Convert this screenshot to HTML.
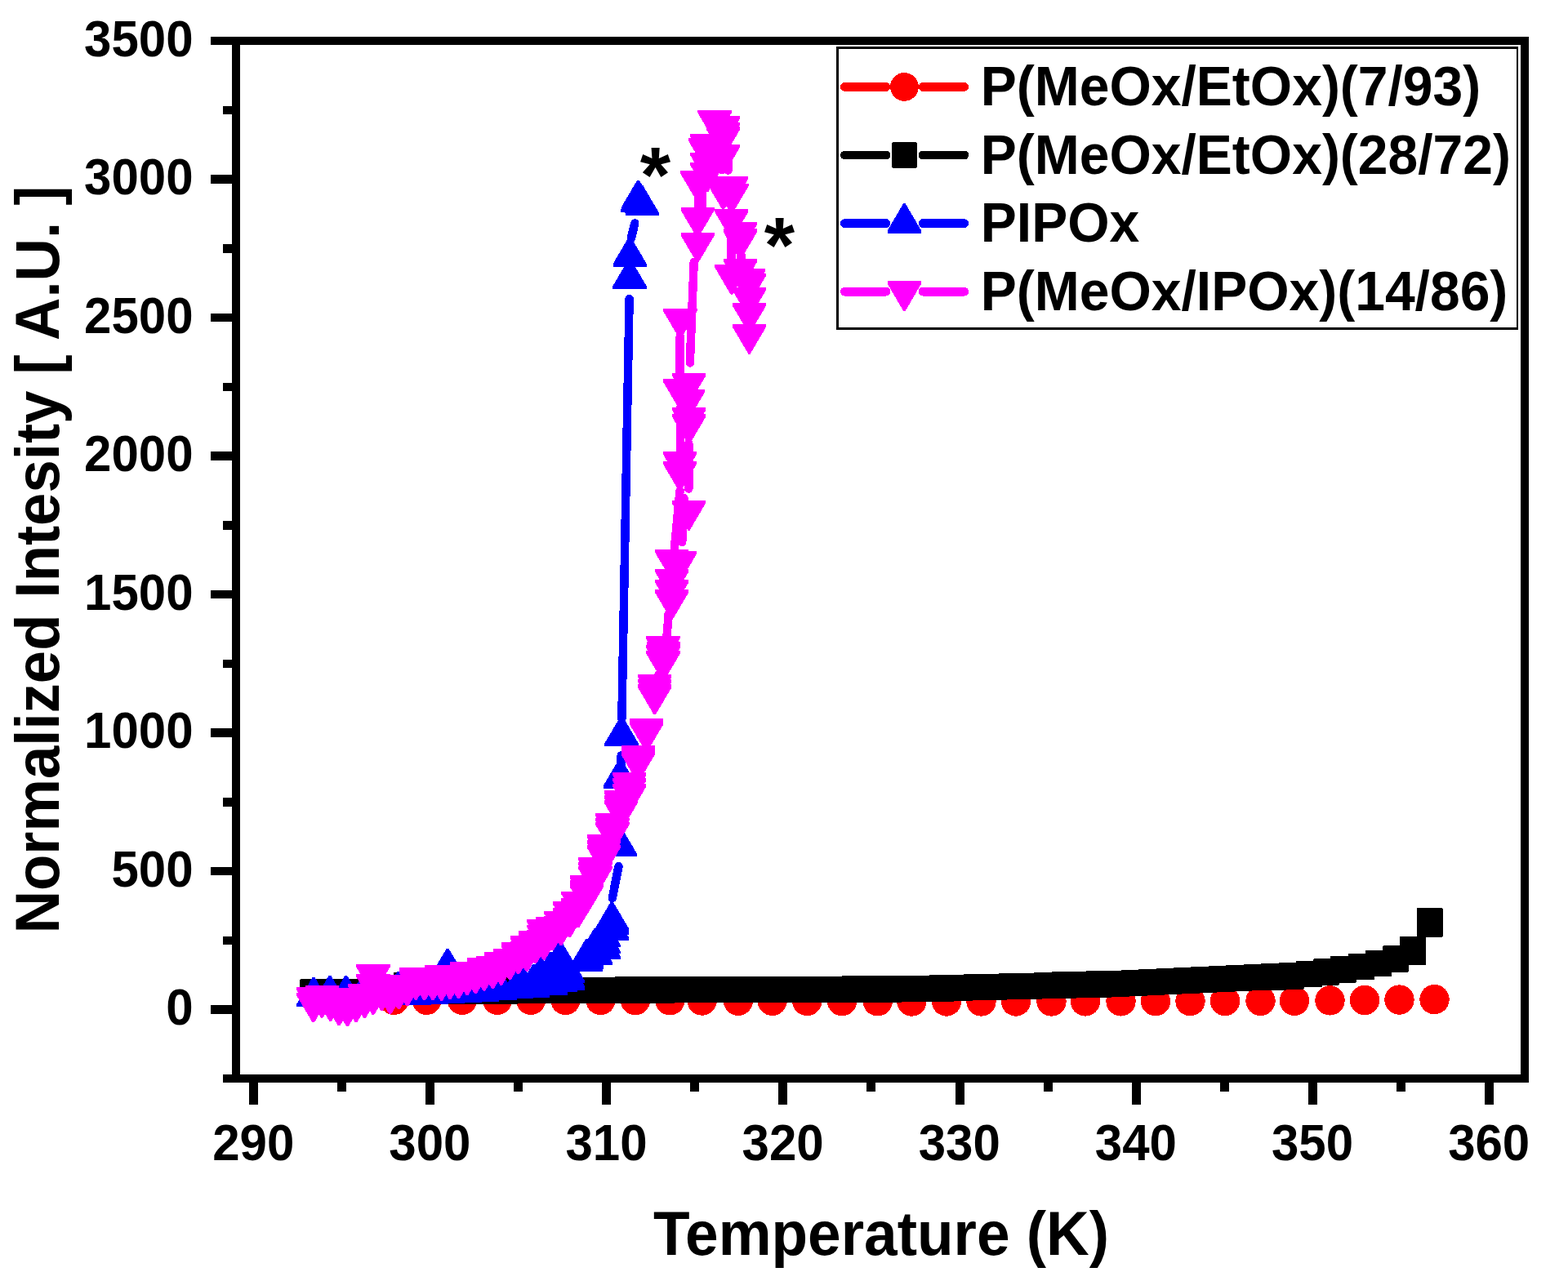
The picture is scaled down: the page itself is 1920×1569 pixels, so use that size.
<!DOCTYPE html>
<html lang="en">
<head>
<meta charset="utf-8">
<title>Normalized Intensity vs Temperature</title>
<style>html,body{margin:0;padding:0;background:#fff}svg{display:block}</style>
</head>
<body>
<svg width="1920" height="1569" viewBox="0 0 1920 1569" font-family="'Liberation Sans', Arial, sans-serif" font-weight="bold">
<rect width="1920" height="1569" fill="#fff"/>
<g shape-rendering="crispEdges">
<g id="s-red"><circle cx="482.5" cy="1224.8" r="18.2" fill="#ff0000"/><circle cx="522.5" cy="1224.8" r="18.2" fill="#ff0000"/><circle cx="565.9" cy="1224.8" r="18.2" fill="#ff0000"/><circle cx="609.0" cy="1224.9" r="18.2" fill="#ff0000"/><circle cx="650.0" cy="1224.9" r="18.2" fill="#ff0000"/><circle cx="692.5" cy="1225.0" r="18.2" fill="#ff0000"/><circle cx="735.5" cy="1225.0" r="18.2" fill="#ff0000"/><circle cx="777.9" cy="1225.2" r="18.2" fill="#ff0000"/><circle cx="820.3" cy="1225.3" r="18.2" fill="#ff0000"/><circle cx="859.7" cy="1225.5" r="18.2" fill="#ff0000"/><circle cx="903.9" cy="1225.7" r="18.2" fill="#ff0000"/><circle cx="945.6" cy="1225.8" r="18.2" fill="#ff0000"/><circle cx="988.3" cy="1226.0" r="18.2" fill="#ff0000"/><circle cx="1031.1" cy="1226.2" r="18.2" fill="#ff0000"/><circle cx="1074.7" cy="1226.3" r="18.2" fill="#ff0000"/><circle cx="1116.4" cy="1226.5" r="18.2" fill="#ff0000"/><circle cx="1159.0" cy="1226.5" r="18.2" fill="#ff0000"/><circle cx="1201.5" cy="1226.5" r="18.2" fill="#ff0000"/><circle cx="1244.0" cy="1226.5" r="18.2" fill="#ff0000"/><circle cx="1287.5" cy="1226.5" r="18.2" fill="#ff0000"/><circle cx="1329.0" cy="1226.4" r="18.2" fill="#ff0000"/><circle cx="1372.5" cy="1226.3" r="18.2" fill="#ff0000"/><circle cx="1415.0" cy="1226.2" r="18.2" fill="#ff0000"/><circle cx="1457.5" cy="1226.1" r="18.2" fill="#ff0000"/><circle cx="1500.0" cy="1226.0" r="18.2" fill="#ff0000"/><circle cx="1543.5" cy="1225.9" r="18.2" fill="#ff0000"/><circle cx="1585.0" cy="1225.8" r="18.2" fill="#ff0000"/><circle cx="1628.5" cy="1225.4" r="18.2" fill="#ff0000"/><circle cx="1671.0" cy="1225.0" r="18.2" fill="#ff0000"/><circle cx="1713.5" cy="1224.6" r="18.2" fill="#ff0000"/><circle cx="1756.5" cy="1224.1" r="18.2" fill="#ff0000"/></g>
<g id="s-black"><rect x="367.4" y="1198.9" width="32.2" height="32.2" rx="1.2" fill="#000000"/><rect x="388.8" y="1198.8" width="32.2" height="32.2" rx="1.2" fill="#000000"/><rect x="410.2" y="1198.6" width="32.2" height="32.2" rx="1.2" fill="#000000"/><rect x="431.6" y="1198.5" width="32.2" height="32.2" rx="1.2" fill="#000000"/><rect x="453.0" y="1198.3" width="32.2" height="32.2" rx="1.2" fill="#000000"/><rect x="474.3" y="1198.2" width="32.2" height="32.2" rx="1.2" fill="#000000"/><rect x="495.7" y="1198.0" width="32.2" height="32.2" rx="1.2" fill="#000000"/><rect x="517.1" y="1197.9" width="32.2" height="32.2" rx="1.2" fill="#000000"/><rect x="538.5" y="1197.7" width="32.2" height="32.2" rx="1.2" fill="#000000"/><rect x="559.9" y="1197.6" width="32.2" height="32.2" rx="1.2" fill="#000000"/><rect x="581.3" y="1197.4" width="32.2" height="32.2" rx="1.2" fill="#000000"/><rect x="602.7" y="1197.3" width="32.2" height="32.2" rx="1.2" fill="#000000"/><rect x="624.1" y="1197.1" width="32.2" height="32.2" rx="1.2" fill="#000000"/><rect x="645.4" y="1197.0" width="32.2" height="32.2" rx="1.2" fill="#000000"/><rect x="666.8" y="1196.9" width="32.2" height="32.2" rx="1.2" fill="#000000"/><rect x="688.2" y="1196.7" width="32.2" height="32.2" rx="1.2" fill="#000000"/><rect x="709.6" y="1196.6" width="32.2" height="32.2" rx="1.2" fill="#000000"/><rect x="731.0" y="1196.5" width="32.2" height="32.2" rx="1.2" fill="#000000"/><rect x="752.4" y="1196.4" width="32.2" height="32.2" rx="1.2" fill="#000000"/><rect x="773.8" y="1196.3" width="32.2" height="32.2" rx="1.2" fill="#000000"/><rect x="795.2" y="1196.3" width="32.2" height="32.2" rx="1.2" fill="#000000"/><rect x="816.6" y="1196.2" width="32.2" height="32.2" rx="1.2" fill="#000000"/><rect x="837.9" y="1196.1" width="32.2" height="32.2" rx="1.2" fill="#000000"/><rect x="859.3" y="1196.0" width="32.2" height="32.2" rx="1.2" fill="#000000"/><rect x="880.7" y="1196.0" width="32.2" height="32.2" rx="1.2" fill="#000000"/><rect x="902.1" y="1195.9" width="32.2" height="32.2" rx="1.2" fill="#000000"/><rect x="923.5" y="1195.8" width="32.2" height="32.2" rx="1.2" fill="#000000"/><rect x="944.9" y="1195.7" width="32.2" height="32.2" rx="1.2" fill="#000000"/><rect x="966.3" y="1195.6" width="32.2" height="32.2" rx="1.2" fill="#000000"/><rect x="987.7" y="1195.6" width="32.2" height="32.2" rx="1.2" fill="#000000"/><rect x="1009.1" y="1195.5" width="32.2" height="32.2" rx="1.2" fill="#000000"/><rect x="1030.4" y="1195.4" width="32.2" height="32.2" rx="1.2" fill="#000000"/><rect x="1051.8" y="1195.3" width="32.2" height="32.2" rx="1.2" fill="#000000"/><rect x="1073.2" y="1195.3" width="32.2" height="32.2" rx="1.2" fill="#000000"/><rect x="1094.6" y="1195.2" width="32.2" height="32.2" rx="1.2" fill="#000000"/><rect x="1116.0" y="1194.8" width="32.2" height="32.2" rx="1.2" fill="#000000"/><rect x="1137.4" y="1194.3" width="32.2" height="32.2" rx="1.2" fill="#000000"/><rect x="1158.8" y="1193.7" width="32.2" height="32.2" rx="1.2" fill="#000000"/><rect x="1180.2" y="1193.2" width="32.2" height="32.2" rx="1.2" fill="#000000"/><rect x="1201.5" y="1192.6" width="32.2" height="32.2" rx="1.2" fill="#000000"/><rect x="1222.9" y="1192.1" width="32.2" height="32.2" rx="1.2" fill="#000000"/><rect x="1244.3" y="1191.5" width="32.2" height="32.2" rx="1.2" fill="#000000"/><rect x="1265.7" y="1190.9" width="32.2" height="32.2" rx="1.2" fill="#000000"/><rect x="1287.1" y="1190.4" width="32.2" height="32.2" rx="1.2" fill="#000000"/><rect x="1308.5" y="1189.8" width="32.2" height="32.2" rx="1.2" fill="#000000"/><rect x="1329.9" y="1189.3" width="32.2" height="32.2" rx="1.2" fill="#000000"/><rect x="1351.3" y="1188.6" width="32.2" height="32.2" rx="1.2" fill="#000000"/><rect x="1372.7" y="1187.7" width="32.2" height="32.2" rx="1.2" fill="#000000"/><rect x="1394.0" y="1186.7" width="32.2" height="32.2" rx="1.2" fill="#000000"/><rect x="1415.4" y="1185.8" width="32.2" height="32.2" rx="1.2" fill="#000000"/><rect x="1436.8" y="1184.9" width="32.2" height="32.2" rx="1.2" fill="#000000"/><rect x="1458.2" y="1184.0" width="32.2" height="32.2" rx="1.2" fill="#000000"/><rect x="1479.6" y="1183.1" width="32.2" height="32.2" rx="1.2" fill="#000000"/><rect x="1501.0" y="1182.2" width="32.2" height="32.2" rx="1.2" fill="#000000"/><rect x="1522.4" y="1181.2" width="32.2" height="32.2" rx="1.2" fill="#000000"/><rect x="1543.8" y="1180.3" width="32.2" height="32.2" rx="1.2" fill="#000000"/><rect x="1565.2" y="1179.4" width="32.2" height="32.2" rx="1.2" fill="#000000"/><rect x="481.9" y="1190.8" width="32.2" height="32.2" rx="1.2" fill="#000000"/><rect x="1586.7" y="1176.8" width="32.2" height="32.2" rx="1.2" fill="#000000"/><rect x="1607.8" y="1174.4" width="32.2" height="32.2" rx="1.2" fill="#000000"/><rect x="1628.6" y="1171.4" width="32.2" height="32.2" rx="1.2" fill="#000000"/><rect x="1651.1" y="1167.8" width="32.2" height="32.2" rx="1.2" fill="#000000"/><rect x="1671.6" y="1164.0" width="32.2" height="32.2" rx="1.2" fill="#000000"/><rect x="1693.0" y="1158.3" width="32.2" height="32.2" rx="1.2" fill="#000000"/><rect x="1713.7" y="1147.2" width="32.2" height="32.2" rx="1.2" fill="#000000"/><rect x="1713.7" y="1149.8" width="32.2" height="32.2" rx="1.2" fill="#000000"/><rect x="1734.5" y="1112.1" width="32.2" height="32.2" rx="1.2" fill="#000000"/><rect x="1734.5" y="1115.8" width="32.2" height="32.2" rx="1.2" fill="#000000"/></g>
<g id="s-blue"><line x1="749.8" y1="1100.0" x2="757.5" y2="1061.0" stroke="#0000ff" stroke-width="10.5" stroke-linecap="round"/><line x1="760.6" y1="925.5" x2="760.2" y2="940.0" stroke="#0000ff" stroke-width="10.5" stroke-linecap="round"/><line x1="761.4" y1="880.0" x2="770.6" y2="366.0" stroke="#0000ff" stroke-width="10.5" stroke-linecap="round"/><line x1="772.8" y1="292.0" x2="777.3" y2="273.5" stroke="#0000ff" stroke-width="10.5" stroke-linecap="round"/><path d="M363.3 1233.3H404.7V1229.7L385.2 1196.5H382.8L363.3 1229.7Z" fill="#0000ff"/><path d="M383.3 1231.4H424.7V1227.8L405.2 1194.6H402.8L383.3 1227.8Z" fill="#0000ff"/><path d="M403.1 1231.4H444.4V1227.8L424.9 1194.6H422.6L403.1 1227.8Z" fill="#0000ff"/><path d="M423.8 1231.4H465.2V1227.8L445.7 1194.6H443.3L423.8 1227.8Z" fill="#0000ff"/><path d="M444.3 1230.9H485.7V1227.3L466.2 1194.1H463.8L444.3 1227.3Z" fill="#0000ff"/><path d="M466.8 1227.0H508.2V1223.4L488.7 1190.2H486.3L466.8 1223.4Z" fill="#0000ff"/><path d="M486.3 1230.9H527.7V1227.3L508.2 1194.1H505.8L486.3 1227.3Z" fill="#0000ff"/><path d="M507.3 1229.9H548.7V1226.3L529.2 1193.1H526.8L507.3 1226.3Z" fill="#0000ff"/><path d="M527.4 1228.9H568.8V1225.3L549.3 1192.1H546.9L527.4 1225.3Z" fill="#0000ff"/><path d="M527.4 1198.3H568.8V1194.7L549.3 1161.5H546.9L527.4 1194.7Z" fill="#0000ff"/><path d="M548.3 1227.9H589.7V1224.3L570.2 1191.1H567.8L548.3 1224.3Z" fill="#0000ff"/><path d="M569.8 1226.7H611.2V1223.1L591.7 1189.9H589.3L569.8 1223.1Z" fill="#0000ff"/><path d="M591.1 1225.4H632.5V1221.8L613.0 1188.6H610.6L591.1 1221.8Z" fill="#0000ff"/><path d="M611.9 1223.3H653.3V1219.7L633.8 1186.5H631.4L611.9 1219.7Z" fill="#0000ff"/><path d="M620.3 1221.9H661.7V1218.3L642.2 1185.1H639.8L620.3 1218.3Z" fill="#0000ff"/><path d="M631.9 1222.1H673.3V1218.5L653.8 1185.3H651.4L631.9 1218.5Z" fill="#0000ff"/><path d="M632.6 1218.0H674.0V1214.4L654.5 1181.2H652.1L632.6 1214.4Z" fill="#0000ff"/><path d="M641.3 1208.4H682.7V1204.8L663.2 1171.6H660.8L641.3 1204.8Z" fill="#0000ff"/><path d="M653.6 1219.2H695.0V1215.6L675.5 1182.4H673.1L653.6 1215.6Z" fill="#0000ff"/><path d="M653.6 1202.4H695.0V1198.8L675.5 1165.6H673.1L653.6 1198.8Z" fill="#0000ff"/><path d="M665.3 1215.4H706.7V1211.8L687.2 1178.6H684.8L665.3 1211.8Z" fill="#0000ff"/><path d="M665.1 1188.7H706.5V1185.1L687.0 1151.9H684.6L665.1 1185.1Z" fill="#0000ff"/><path d="M674.4 1213.2H715.8V1209.6L696.3 1176.4H693.9L674.4 1209.6Z" fill="#0000ff"/><path d="M674.4 1210.8H715.8V1207.2L696.3 1174.0H693.9L674.4 1207.2Z" fill="#0000ff"/><path d="M674.4 1204.4H715.8V1200.8L696.3 1167.6H693.9L674.4 1200.8Z" fill="#0000ff"/><path d="M696.9 1189.7H738.3V1186.1L718.8 1152.9H716.4L696.9 1186.1Z" fill="#0000ff"/><path d="M697.6 1186.8H739.0V1183.2L719.5 1150.0H717.1L697.6 1183.2Z" fill="#0000ff"/><path d="M708.2 1181.7H749.6V1178.1L730.1 1144.9H727.7L708.2 1178.1Z" fill="#0000ff"/><path d="M708.2 1173.4H749.6V1169.8L730.1 1136.6H727.7L708.2 1169.8Z" fill="#0000ff"/><path d="M718.2 1174.6H759.6V1171.0L740.1 1137.8H737.7L718.2 1171.0Z" fill="#0000ff"/><path d="M718.2 1168.4H759.6V1164.8L740.1 1131.6H737.7L718.2 1164.8Z" fill="#0000ff"/><path d="M718.2 1160.4H759.6V1156.8L740.1 1123.6H737.7L718.2 1156.8Z" fill="#0000ff"/><path d="M728.6 1151.7H770.0V1148.1L750.5 1114.9H748.1L728.6 1148.1Z" fill="#0000ff"/><path d="M728.6 1145.4H770.0V1141.8L750.5 1108.6H748.1L728.6 1141.8Z" fill="#0000ff"/><path d="M728.6 1140.9H770.0V1137.3L750.5 1104.1H748.1L728.6 1137.3Z" fill="#0000ff"/><path d="M738.6 1049.4H780.0V1045.8L760.5 1012.6H758.1L738.6 1045.8Z" fill="#0000ff"/><path d="M738.8 965.9H780.2V962.3L760.7 929.1H758.3L738.8 962.3Z" fill="#0000ff"/><path d="M740.4 914.0H781.8V910.4L762.3 877.2H759.9L740.4 910.4Z" fill="#0000ff"/><path d="M750.3 354.0H791.7V350.4L772.2 317.2H769.8L750.3 350.4Z" fill="#0000ff"/><path d="M750.5 326.9H791.9V323.3L772.4 290.1H770.0L750.5 323.3Z" fill="#0000ff"/><path d="M760.0 260.4H801.5V256.8L782.0 223.6H779.5L760.0 256.8Z" fill="#0000ff"/><path d="M760.8 257.4H802.2V253.8L782.7 220.6H780.3L760.8 253.8Z" fill="#0000ff"/><path d="M765.5 264.1H806.9V260.5L787.4 227.3H785.0L765.5 260.5Z" fill="#0000ff"/></g>
<g id="s-magenta"><line x1="849.7" y1="321.0" x2="844.8" y2="444.5" stroke="#ff00ff" stroke-width="10.5" stroke-linecap="round"/><line x1="832.7" y1="412.0" x2="832.7" y2="457.0" stroke="#ff00ff" stroke-width="10.5" stroke-linecap="round"/><line x1="833.0" y1="500.0" x2="833.0" y2="553.0" stroke="#ff00ff" stroke-width="10.5" stroke-linecap="round"/><line x1="843.3" y1="543.0" x2="843.3" y2="598.5" stroke="#ff00ff" stroke-width="10.5" stroke-linecap="round"/><line x1="832.5" y1="601.0" x2="825.8" y2="673.0" stroke="#ff00ff" stroke-width="10.5" stroke-linecap="round"/><line x1="837.5" y1="610.0" x2="835.2" y2="664.0" stroke="#ff00ff" stroke-width="10.5" stroke-linecap="round"/><line x1="818.7" y1="752.0" x2="816.5" y2="780.0" stroke="#ff00ff" stroke-width="10.5" stroke-linecap="round"/><line x1="807.0" y1="826.0" x2="805.0" y2="830.0" stroke="#ff00ff" stroke-width="10.5" stroke-linecap="round"/><line x1="855.0" y1="245.0" x2="855.0" y2="254.0" stroke="#ff00ff" stroke-width="10.5" stroke-linecap="round"/><line x1="895.7" y1="292.0" x2="895.7" y2="320.0" stroke="#ff00ff" stroke-width="10.5" stroke-linecap="round"/><line x1="907.4" y1="312.0" x2="907.4" y2="318.0" stroke="#ff00ff" stroke-width="10.5" stroke-linecap="round"/><line x1="891.5" y1="190.0" x2="891.5" y2="208.5" stroke="#ff00ff" stroke-width="10.5" stroke-linecap="round"/><line x1="884.0" y1="190.0" x2="884.0" y2="208.0" stroke="#ff00ff" stroke-width="10.5" stroke-linecap="round"/><line x1="860.0" y1="234.0" x2="860.0" y2="254.0" stroke="#ff00ff" stroke-width="10.5" stroke-linecap="round"/><path d="M363.0 1215.5H404.4V1219.1L384.9 1252.3H382.5L363.0 1219.1Z" fill="#ff00ff"/><path d="M363.0 1209.0H404.4V1212.6L384.9 1245.8H382.5L363.0 1212.6Z" fill="#ff00ff"/><path d="M373.5 1209.8H414.9V1213.4L395.4 1246.7H393.0L373.5 1213.4Z" fill="#ff00ff"/><path d="M373.5 1206.8H414.9V1210.4L395.4 1243.7H393.0L373.5 1210.4Z" fill="#ff00ff"/><path d="M383.9 1214.2H425.3V1217.8L405.8 1251.0H403.4L383.9 1217.8Z" fill="#ff00ff"/><path d="M383.9 1209.6H425.3V1213.2L405.8 1246.4H403.4L383.9 1213.2Z" fill="#ff00ff"/><path d="M394.4 1219.6H435.8V1223.2L416.3 1256.4H413.9L394.4 1223.2Z" fill="#ff00ff"/><path d="M394.4 1212.6H435.8V1216.2L416.3 1249.4H413.9L394.4 1216.2Z" fill="#ff00ff"/><path d="M404.8 1220.5H446.2V1224.1L426.7 1257.3H424.3L404.8 1224.1Z" fill="#ff00ff"/><path d="M404.8 1212.6H446.2V1216.2L426.7 1249.4H424.3L404.8 1216.2Z" fill="#ff00ff"/><path d="M415.3 1215.5H456.7V1219.1L437.2 1252.3H434.8L415.3 1219.1Z" fill="#ff00ff"/><path d="M415.3 1209.6H456.7V1213.2L437.2 1246.4H434.8L415.3 1213.2Z" fill="#ff00ff"/><path d="M425.8 1210.5H467.2V1214.1L447.7 1247.3H445.3L425.8 1214.1Z" fill="#ff00ff"/><path d="M425.8 1204.6H467.2V1208.2L447.7 1241.4H445.3L425.8 1208.2Z" fill="#ff00ff"/><path d="M436.2 1206.3H477.6V1209.9L458.1 1243.2H455.7L436.2 1209.9Z" fill="#ff00ff"/><path d="M436.2 1192.9H477.6V1196.5L458.1 1229.7H455.7L436.2 1196.5Z" fill="#ff00ff"/><path d="M436.2 1180.9H477.6V1184.5L458.1 1217.7H455.7L436.2 1184.5Z" fill="#ff00ff"/><path d="M446.7 1201.3H488.1V1204.9L468.6 1238.2H466.2L446.7 1204.9Z" fill="#ff00ff"/><path d="M446.7 1194.0H488.1V1197.6L468.6 1230.8H466.2L446.7 1197.6Z" fill="#ff00ff"/><path d="M457.1 1205.5H498.5V1209.1L479.0 1242.3H476.6L457.1 1209.1Z" fill="#ff00ff"/><path d="M457.1 1194.0H498.5V1197.6L479.0 1230.8H476.6L457.1 1197.6Z" fill="#ff00ff"/><path d="M467.6 1199.6H509.0V1203.2L489.5 1236.4H487.1L467.6 1203.2Z" fill="#ff00ff"/><path d="M467.6 1194.2H509.0V1197.8L489.5 1231.0H487.1L467.6 1197.8Z" fill="#ff00ff"/><path d="M478.1 1195.6H519.5V1199.2L500.0 1232.4H497.6L478.1 1199.2Z" fill="#ff00ff"/><path d="M478.1 1194.4H519.5V1198.0L500.0 1231.2H497.6L478.1 1198.0Z" fill="#ff00ff"/><path d="M488.5 1188.1H529.9V1191.7L510.4 1224.9H508.0L488.5 1191.7Z" fill="#ff00ff"/><path d="M488.5 1185.1H529.9V1188.7L510.4 1221.9H508.0L488.5 1188.7Z" fill="#ff00ff"/><path d="M499.0 1188.6H540.4V1192.2L520.9 1225.4H518.5L499.0 1192.2Z" fill="#ff00ff"/><path d="M499.0 1186.6H540.4V1190.2L520.9 1223.4H518.5L499.0 1190.2Z" fill="#ff00ff"/><path d="M509.4 1188.6H550.8V1192.2L531.3 1225.4H528.9L509.4 1192.2Z" fill="#ff00ff"/><path d="M509.4 1186.6H550.8V1190.2L531.3 1223.4H528.9L509.4 1190.2Z" fill="#ff00ff"/><path d="M519.9 1189.1H561.3V1192.7L541.8 1225.9H539.4L519.9 1192.7Z" fill="#ff00ff"/><path d="M519.9 1182.0H561.3V1185.6L541.8 1218.8H539.4L519.9 1185.6Z" fill="#ff00ff"/><path d="M530.4 1187.3H571.8V1190.9L552.3 1224.2H549.9L530.4 1190.9Z" fill="#ff00ff"/><path d="M530.4 1184.6H571.8V1188.2L552.3 1221.4H549.9L530.4 1188.2Z" fill="#ff00ff"/><path d="M540.8 1186.6H582.2V1190.2L562.7 1223.4H560.3L540.8 1190.2Z" fill="#ff00ff"/><path d="M540.8 1183.6H582.2V1187.2L562.7 1220.4H560.3L540.8 1187.2Z" fill="#ff00ff"/><path d="M551.3 1182.3H592.7V1185.9L573.2 1219.2H570.8L551.3 1185.9Z" fill="#ff00ff"/><path d="M551.3 1178.1H592.7V1181.7L573.2 1214.9H570.8L551.3 1181.7Z" fill="#ff00ff"/><path d="M561.7 1180.6H603.1V1184.2L583.6 1217.4H581.2L561.7 1184.2Z" fill="#ff00ff"/><path d="M561.7 1179.6H603.1V1183.2L583.6 1216.4H581.2L561.7 1183.2Z" fill="#ff00ff"/><path d="M572.2 1177.0H613.6V1180.6L594.1 1213.8H591.7L572.2 1180.6Z" fill="#ff00ff"/><path d="M572.2 1173.1H613.6V1176.7L594.1 1209.9H591.7L572.2 1176.7Z" fill="#ff00ff"/><path d="M582.7 1174.4H624.1V1178.0L604.6 1211.2H602.2L582.7 1178.0Z" fill="#ff00ff"/><path d="M582.7 1171.0H624.1V1174.6L604.6 1207.8H602.2L582.7 1174.6Z" fill="#ff00ff"/><path d="M593.1 1169.9H634.5V1173.5L615.0 1206.7H612.6L593.1 1173.5Z" fill="#ff00ff"/><path d="M593.1 1166.0H634.5V1169.6L615.0 1202.8H612.6L593.1 1169.6Z" fill="#ff00ff"/><path d="M603.6 1163.6H645.0V1167.2L625.5 1200.4H623.1L603.6 1167.2Z" fill="#ff00ff"/><path d="M603.6 1161.6H645.0V1165.2L625.5 1198.4H623.1L603.6 1165.2Z" fill="#ff00ff"/><path d="M614.0 1156.6H655.4V1160.2L635.9 1193.4H633.5L614.0 1160.2Z" fill="#ff00ff"/><path d="M614.0 1153.7H655.4V1157.3L635.9 1190.5H633.5L614.0 1157.3Z" fill="#ff00ff"/><path d="M624.5 1153.4H665.9V1157.0L646.4 1190.2H644.0L624.5 1157.0Z" fill="#ff00ff"/><path d="M624.5 1145.8H665.9V1149.4L646.4 1182.6H644.0L624.5 1149.4Z" fill="#ff00ff"/><path d="M635.0 1143.6H676.4V1147.2L656.9 1180.4H654.5L635.0 1147.2Z" fill="#ff00ff"/><path d="M635.0 1140.0H676.4V1143.6L656.9 1176.8H654.5L635.0 1143.6Z" fill="#ff00ff"/><path d="M645.4 1139.2H686.8V1142.8L667.3 1176.0H664.9L645.4 1142.8Z" fill="#ff00ff"/><path d="M645.4 1132.6H686.8V1136.2L667.3 1169.4H664.9L645.4 1136.2Z" fill="#ff00ff"/><path d="M645.4 1126.3H686.8V1129.9L667.3 1163.1H664.9L645.4 1129.9Z" fill="#ff00ff"/><path d="M655.9 1127.6H697.3V1131.2L677.8 1164.4H675.4L655.9 1131.2Z" fill="#ff00ff"/><path d="M655.9 1122.8H697.3V1126.4L677.8 1159.6H675.4L655.9 1126.4Z" fill="#ff00ff"/><path d="M666.3 1121.6H707.7V1125.2L688.2 1158.4H685.8L666.3 1125.2Z" fill="#ff00ff"/><path d="M666.3 1115.8H707.7V1119.4L688.2 1152.6H685.8L666.3 1119.4Z" fill="#ff00ff"/><path d="M676.8 1111.6H718.2V1115.2L698.7 1148.4H696.3L676.8 1115.2Z" fill="#ff00ff"/><path d="M676.8 1103.7H718.2V1107.3L698.7 1140.5H696.3L676.8 1107.3Z" fill="#ff00ff"/><path d="M687.3 1099.6H728.7V1103.2L709.2 1136.4H706.8L687.3 1103.2Z" fill="#ff00ff"/><path d="M687.3 1091.6H728.7V1095.2L709.2 1128.4H706.8L687.3 1095.2Z" fill="#ff00ff"/><path d="M697.7 1082.6H739.1V1086.2L719.6 1119.4H717.2L697.7 1086.2Z" fill="#ff00ff"/><path d="M697.7 1077.6H739.1V1081.2L719.6 1114.4H717.2L697.7 1081.2Z" fill="#ff00ff"/><path d="M697.7 1071.7H739.1V1075.3L719.6 1108.5H717.2L697.7 1075.3Z" fill="#ff00ff"/><path d="M708.2 1060.6H749.6V1064.2L730.1 1097.4H727.7L708.2 1064.2Z" fill="#ff00ff"/><path d="M708.2 1055.6H749.6V1059.2L730.1 1092.4H727.7L708.2 1059.2Z" fill="#ff00ff"/><path d="M708.2 1049.9H749.6V1053.5L730.1 1086.7H727.7L708.2 1053.5Z" fill="#ff00ff"/><path d="M718.6 1034.6H760.0V1038.2L740.5 1071.4H738.1L718.6 1038.2Z" fill="#ff00ff"/><path d="M718.6 1028.6H760.0V1032.2L740.5 1065.4H738.1L718.6 1032.2Z" fill="#ff00ff"/><path d="M718.6 1021.9H760.0V1025.5L740.5 1058.7H738.1L718.6 1025.5Z" fill="#ff00ff"/><path d="M729.1 1006.6H770.5V1010.2L751.0 1043.4H748.6L729.1 1010.2Z" fill="#ff00ff"/><path d="M729.1 1001.6H770.5V1005.2L751.0 1038.4H748.6L729.1 1005.2Z" fill="#ff00ff"/><path d="M729.1 995.7H770.5V999.3L751.0 1032.5H748.6L729.1 999.3Z" fill="#ff00ff"/><path d="M739.6 979.6H781.0V983.2L761.5 1016.4H759.1L739.6 983.2Z" fill="#ff00ff"/><path d="M739.6 973.6H781.0V977.2L761.5 1010.4H759.1L739.6 977.2Z" fill="#ff00ff"/><path d="M739.6 967.9H781.0V971.5L761.5 1004.7H759.1L739.6 971.5Z" fill="#ff00ff"/><path d="M750.0 959.6H791.4V963.2L771.9 996.4H769.5L750.0 963.2Z" fill="#ff00ff"/><path d="M750.0 952.6H791.4V956.2L771.9 989.4H769.5L750.0 956.2Z" fill="#ff00ff"/><path d="M750.0 945.9H791.4V949.5L771.9 982.7H769.5L750.0 949.5Z" fill="#ff00ff"/><path d="M760.5 920.6H801.9V924.2L782.4 957.4H780.0L760.5 924.2Z" fill="#ff00ff"/><path d="M760.5 916.6H801.9V920.2L782.4 953.4H780.0L760.5 920.2Z" fill="#ff00ff"/><path d="M760.5 912.5H801.9V916.1L782.4 949.3H780.0L760.5 916.1Z" fill="#ff00ff"/><path d="M770.9 883.6H812.3V887.2L792.8 920.4H790.4L770.9 887.2Z" fill="#ff00ff"/><path d="M770.9 880.0H812.3V883.6L792.8 916.8H790.4L770.9 883.6Z" fill="#ff00ff"/><path d="M781.0 838.4H822.4V842.0L802.9 875.2H800.5L781.0 842.0Z" fill="#ff00ff"/><path d="M781.0 831.5H822.4V835.1L802.9 868.3H800.5L781.0 835.1Z" fill="#ff00ff"/><path d="M781.0 825.7H822.4V829.3L802.9 862.5H800.5L781.0 829.3Z" fill="#ff00ff"/><path d="M791.3 797.1H832.7V800.7L813.2 833.9H810.8L791.3 800.7Z" fill="#ff00ff"/><path d="M791.2 790.2H832.6V793.8L813.1 827.0H810.7L791.2 793.8Z" fill="#ff00ff"/><path d="M791.5 785.6H832.9V789.2L813.4 822.4H811.0L791.5 789.2Z" fill="#ff00ff"/><path d="M791.2 778.7H832.6V782.3L813.1 815.5H810.7L791.2 782.3Z" fill="#ff00ff"/><path d="M801.9 721.9H843.3V725.5L823.8 758.7H821.4L801.9 725.5Z" fill="#ff00ff"/><path d="M801.9 709.6H843.3V713.2L823.8 746.4H821.4L801.9 713.2Z" fill="#ff00ff"/><path d="M801.9 696.6H843.3V700.2L823.8 733.4H821.4L801.9 700.2Z" fill="#ff00ff"/><path d="M801.9 672.8H843.3V676.4L823.8 709.6H821.4L801.9 676.4Z" fill="#ff00ff"/><path d="M811.7 674.8H853.1V678.4L833.6 711.6H831.2L811.7 678.4Z" fill="#ff00ff"/><path d="M822.7 612.7H864.1V616.3L844.6 649.5H842.2L822.7 616.3Z" fill="#ff00ff"/><path d="M811.8 564.6H853.2V568.2L833.7 601.4H831.3L811.8 568.2Z" fill="#ff00ff"/><path d="M811.8 552.6H853.2V556.2L833.7 589.4H831.3L811.8 556.2Z" fill="#ff00ff"/><path d="M822.9 506.8H864.3V510.4L844.8 543.6H842.4L822.9 510.4Z" fill="#ff00ff"/><path d="M822.9 498.6H864.3V502.2L844.8 535.4H842.4L822.9 502.2Z" fill="#ff00ff"/><path d="M821.7 476.6H863.1V480.2L843.6 513.4H841.2L821.7 480.2Z" fill="#ff00ff"/><path d="M811.9 463.9H853.3V467.5L833.8 500.7H831.4L811.9 467.5Z" fill="#ff00ff"/><path d="M822.9 456.6H864.3V460.2L844.8 493.4H842.4L822.9 460.2Z" fill="#ff00ff"/><path d="M812.2 377.7H853.6V381.3L834.1 414.5H831.7L812.2 381.3Z" fill="#ff00ff"/><path d="M833.5 284.6H874.9V288.2L855.4 321.4H853.0L833.5 288.2Z" fill="#ff00ff"/><path d="M833.5 253.7H874.9V257.3L855.4 290.5H853.0L833.5 257.3Z" fill="#ff00ff"/><path d="M833.0 208.7H874.4V212.3L854.9 245.5H852.5L833.0 212.3Z" fill="#ff00ff"/><path d="M845.1 198.6H886.5V202.2L867.0 235.4H864.6L845.1 202.2Z" fill="#ff00ff"/><path d="M845.1 186.5H886.5V190.1L867.0 223.3H864.6L845.1 190.1Z" fill="#ff00ff"/><path d="M843.0 169.0H884.4V172.6L864.9 205.8H862.5L843.0 172.6Z" fill="#ff00ff"/><path d="M845.1 163.7H886.5V167.3L867.0 200.5H864.6L845.1 167.3Z" fill="#ff00ff"/><path d="M854.4 134.7H895.8V138.3L876.3 171.5H873.9L854.4 138.3Z" fill="#ff00ff"/><path d="M864.8 141.7H906.2V145.3L886.7 178.5H884.3L864.8 145.3Z" fill="#ff00ff"/><path d="M864.8 149.6H906.2V153.2L886.7 186.4H884.3L864.8 153.2Z" fill="#ff00ff"/><path d="M864.8 155.0H906.2V158.6L886.7 191.8H884.3L864.8 158.6Z" fill="#ff00ff"/><path d="M864.8 176.6H906.2V180.2L886.7 213.4H884.3L864.8 180.2Z" fill="#ff00ff"/><path d="M864.8 219.8H906.2V223.4L886.7 256.6H884.3L864.8 223.4Z" fill="#ff00ff"/><path d="M874.8 215.6H916.2V219.2L896.7 252.4H894.3L874.8 219.2Z" fill="#ff00ff"/><path d="M875.1 224.6H916.5V228.2L897.0 261.4H894.6L875.1 228.2Z" fill="#ff00ff"/><path d="M875.0 255.8H916.4V259.4L896.9 292.6H894.5L875.0 259.4Z" fill="#ff00ff"/><path d="M885.7 271.5H927.1V275.1L907.6 308.3H905.2L885.7 275.1Z" fill="#ff00ff"/><path d="M885.7 280.4H927.1V284.0L907.6 317.2H905.2L885.7 284.0Z" fill="#ff00ff"/><path d="M885.9 316.8H927.3V320.4L907.8 353.6H905.4L885.9 320.4Z" fill="#ff00ff"/><path d="M875.1 323.8H916.5V327.4L897.0 360.6H894.6L875.1 327.4Z" fill="#ff00ff"/><path d="M895.7 328.6H937.1V332.2L917.6 365.4H915.2L895.7 332.2Z" fill="#ff00ff"/><path d="M896.3 334.7H937.7V338.3L918.2 371.5H915.8L896.3 338.3Z" fill="#ff00ff"/><path d="M896.6 351.7H938.0V355.3L918.5 388.5H916.1L896.6 355.3Z" fill="#ff00ff"/><path d="M896.8 370.7H938.2V374.3L918.7 407.5H916.3L896.8 374.3Z" fill="#ff00ff"/><path d="M896.8 396.7H938.2V400.3L918.7 433.5H916.3L896.8 400.3Z" fill="#ff00ff"/></g>
</g>
<g shape-rendering="crispEdges" fill="#000">
<rect x="284" y="45" width="1588" height="10"/>
<rect x="273" y="1316" width="1599" height="10"/>
<rect x="284" y="45" width="10" height="1281"/>
<rect x="1862" y="45" width="10" height="1281"/>
<rect x="258" y="1231.25" width="28" height="10.5"/>
<rect x="273" y="1146.50" width="13" height="10.5"/>
<rect x="258" y="1061.75" width="28" height="10.5"/>
<rect x="273" y="977.00" width="13" height="10.5"/>
<rect x="258" y="892.25" width="28" height="10.5"/>
<rect x="273" y="807.50" width="13" height="10.5"/>
<rect x="258" y="722.75" width="28" height="10.5"/>
<rect x="273" y="638.00" width="13" height="10.5"/>
<rect x="258" y="553.25" width="28" height="10.5"/>
<rect x="273" y="468.50" width="13" height="10.5"/>
<rect x="258" y="383.75" width="28" height="10.5"/>
<rect x="273" y="299.00" width="13" height="10.5"/>
<rect x="258" y="214.25" width="28" height="10.5"/>
<rect x="273" y="129.50" width="13" height="10.5"/>
<rect x="258" y="44.75" width="28" height="10.5"/>
<rect x="305.00" y="1324" width="11" height="29"/>
<rect x="413.07" y="1324" width="11" height="13"/>
<rect x="521.14" y="1324" width="11" height="29"/>
<rect x="629.21" y="1324" width="11" height="13"/>
<rect x="737.28" y="1324" width="11" height="29"/>
<rect x="845.35" y="1324" width="11" height="13"/>
<rect x="953.42" y="1324" width="11" height="29"/>
<rect x="1061.49" y="1324" width="11" height="13"/>
<rect x="1169.56" y="1324" width="11" height="29"/>
<rect x="1277.63" y="1324" width="11" height="13"/>
<rect x="1385.70" y="1324" width="11" height="29"/>
<rect x="1493.77" y="1324" width="11" height="13"/>
<rect x="1601.84" y="1324" width="11" height="29"/>
<rect x="1709.91" y="1324" width="11" height="13"/>
<rect x="1817.98" y="1324" width="11" height="29"/>
</g>
<g id="ticklabels">
<text transform="translate(236.50 1255.40) scale(1 1.04)" font-size="60" text-anchor="end" fill="#000">0</text>
<text transform="translate(236.50 1085.90) scale(1 1.04)" font-size="60" text-anchor="end" fill="#000">500</text>
<text transform="translate(236.50 916.40) scale(1 1.04)" font-size="60" text-anchor="end" fill="#000">1000</text>
<text transform="translate(236.50 746.90) scale(1 1.04)" font-size="60" text-anchor="end" fill="#000">1500</text>
<text transform="translate(236.50 577.40) scale(1 1.04)" font-size="60" text-anchor="end" fill="#000">2000</text>
<text transform="translate(236.50 407.90) scale(1 1.04)" font-size="60" text-anchor="end" fill="#000">2500</text>
<text transform="translate(236.50 238.40) scale(1 1.04)" font-size="60" text-anchor="end" fill="#000">3000</text>
<text transform="translate(236.50 68.90) scale(1 1.04)" font-size="60" text-anchor="end" fill="#000">3500</text>
<text transform="translate(310.20 1421.30) scale(1 1.04)" font-size="60" text-anchor="middle" fill="#000">290</text>
<text transform="translate(526.34 1421.30) scale(1 1.04)" font-size="60" text-anchor="middle" fill="#000">300</text>
<text transform="translate(742.48 1421.30) scale(1 1.04)" font-size="60" text-anchor="middle" fill="#000">310</text>
<text transform="translate(958.62 1421.30) scale(1 1.04)" font-size="60" text-anchor="middle" fill="#000">320</text>
<text transform="translate(1174.76 1421.30) scale(1 1.04)" font-size="60" text-anchor="middle" fill="#000">330</text>
<text transform="translate(1390.90 1421.30) scale(1 1.04)" font-size="60" text-anchor="middle" fill="#000">340</text>
<text transform="translate(1607.04 1421.30) scale(1 1.04)" font-size="60" text-anchor="middle" fill="#000">350</text>
<text transform="translate(1823.18 1421.30) scale(1 1.04)" font-size="60" text-anchor="middle" fill="#000">360</text>
</g>
<text transform="translate(1079.00 1537.00) scale(1 1.035)" font-size="73" text-anchor="middle" fill="#000">Temperature (K)</text>
<text transform="translate(72.00 685.50) rotate(-90) scale(1 1.04)" font-size="72.5" text-anchor="middle" fill="#000">Normalized Intesity [ A.U. ]</text>
<text transform="translate(802.50 247.00) scale(1 1.0)" font-size="96" text-anchor="middle" fill="#000">*</text>
<text transform="translate(954.50 333.00) scale(1 1.0)" font-size="96" text-anchor="middle" fill="#000">*</text>
<g shape-rendering="crispEdges">
<rect x="1024" y="57" width="835" height="346.7" fill="#000"/>
<rect x="1027" y="60" width="830" height="340.8" fill="#fff"/>
<line x1="1034.4" y1="106.4" x2="1085.0" y2="106.4" stroke="#ff0000" stroke-width="10.8" stroke-linecap="round"/>
<line x1="1130.0" y1="106.4" x2="1180.8" y2="106.4" stroke="#ff0000" stroke-width="10.8" stroke-linecap="round"/>
<circle cx="1107.4" cy="106.4" r="17.4" fill="#ff0000"/>
<line x1="1034.4" y1="190.0" x2="1085.0" y2="190.0" stroke="#000000" stroke-width="10.8" stroke-linecap="round"/>
<line x1="1130.0" y1="190.0" x2="1180.8" y2="190.0" stroke="#000000" stroke-width="10.8" stroke-linecap="round"/>
<rect x="1091.8" y="174.4" width="31.2" height="31.2" rx="1.2" fill="#000000"/>
<line x1="1034.4" y1="273.6" x2="1085.0" y2="273.6" stroke="#0000ff" stroke-width="10.8" stroke-linecap="round"/>
<line x1="1130.0" y1="273.6" x2="1180.8" y2="273.6" stroke="#0000ff" stroke-width="10.8" stroke-linecap="round"/>
<path d="M1086.7 286.0H1128.1V282.4L1108.6 249.2H1106.2L1086.7 282.4Z" fill="#0000ff"/>
<line x1="1034.4" y1="357.2" x2="1085.0" y2="357.2" stroke="#ff00ff" stroke-width="10.8" stroke-linecap="round"/>
<line x1="1130.0" y1="357.2" x2="1180.8" y2="357.2" stroke="#ff00ff" stroke-width="10.8" stroke-linecap="round"/>
<path d="M1086.7 344.1H1128.1V347.7L1108.6 380.9H1106.2L1086.7 347.7Z" fill="#ff00ff"/>
</g>
<g id="legendtext">
<text transform="translate(1200.80 129.00) scale(1 1.04)" font-size="66" text-anchor="start" fill="#000">P(MeOx/EtOx)(7/93)</text>
<text transform="translate(1200.80 212.67) scale(1 1.04)" font-size="66" text-anchor="start" fill="#000">P(MeOx/EtOx)(28/72)</text>
<text transform="translate(1200.80 296.34) scale(1 1.04)" font-size="66" text-anchor="start" fill="#000">PIPOx</text>
<text transform="translate(1200.80 380.01) scale(1 1.04)" font-size="66" text-anchor="start" fill="#000">P(MeOx/IPOx)(14/86)</text>
</g>
</svg>
</body>
</html>
